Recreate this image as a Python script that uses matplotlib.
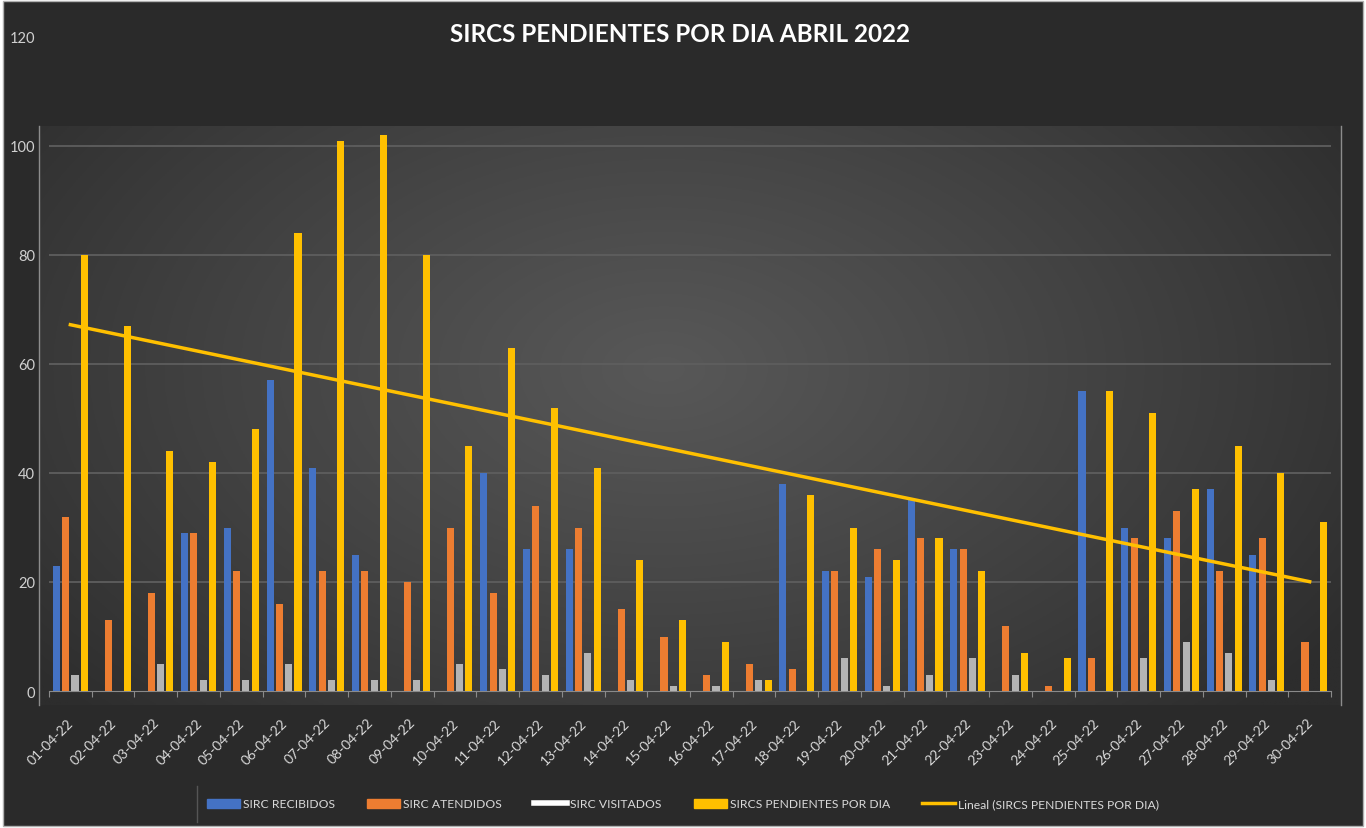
import numpy as np
import matplotlib.pyplot as plt
from matplotlib.patches import Patch, Rectangle
from matplotlib.lines import Line2D
from matplotlib.transforms import ScaledTranslation

plt.rcParams['font.family'] = ['Lato', 'DejaVu Sans']

# datos abril 2022
dias = ["01-04-22", "02-04-22", "03-04-22", "04-04-22", "05-04-22", "06-04-22",
        "07-04-22", "08-04-22", "09-04-22", "10-04-22", "11-04-22", "12-04-22",
        "13-04-22", "14-04-22", "15-04-22", "16-04-22", "17-04-22", "18-04-22",
        "19-04-22", "20-04-22", "21-04-22", "22-04-22", "23-04-22", "24-04-22",
        "25-04-22", "26-04-22", "27-04-22", "28-04-22", "29-04-22", "30-04-22"]
recibidos = [23, 0, 0, 29, 30, 57, 41, 25, 0, 0, 40, 26, 26, 0, 0,
             0, 0, 38, 22, 21, 35, 26, 0, 0, 55, 30, 28, 37, 25, 0]
atendidos = [32, 13, 18, 29, 22, 16, 22, 22, 20, 30, 18, 34, 30, 15, 10,
             3, 5, 4, 22, 26, 28, 26, 12, 1, 6, 28, 33, 22, 28, 9]
visitados = [3, 0, 5, 2, 2, 5, 2, 2, 2, 5, 4, 3, 7, 2, 1,
             1, 2, 0, 6, 1, 3, 6, 3, 0, 0, 6, 9, 7, 2, 0]
pendientes = [80, 67, 44, 42, 48, 84, 101, 102, 80, 45, 63, 52, 41, 24, 13,
              9, 2, 36, 30, 24, 28, 22, 7, 6, 55, 51, 37, 45, 40, 31]

series = ["SIRC RECIBIDOS", "SIRC ATENDIDOS", "SIRC VISITADOS", "SIRCS PENDIENTES POR DIA"]
colores = ["#4472C4", "#ED7D31", "#B4B4B4", "#FFC000"]

W, H = 1366, 829


def fx(px):
    return px / W


def fy(py):
    return 1 - py / H


fig = plt.figure(figsize=(W / 100, H / 100), dpi=100, facecolor="white")

# fondo oscuro con borde
fig.add_artist(Rectangle((fx(3), fy(827)), fx(1363) - fx(3), fy(2) - fy(827),
                         transform=fig.transFigure, facecolor="#2a2a2a",
                         edgecolor="#b0b0b0", lw=1, zorder=-10))

# area de grafico con degradado
bg = fig.add_axes([fx(39), fy(706), fx(1341) - fx(39), fy(127) - fy(706)])
bg.axis("off")
yy, xx = np.mgrid[0:1:300j, 0:1:600j]
d = np.sqrt(((xx - 0.48) / 0.62) ** 2 + ((yy - 0.42) / 0.85) ** 2)
v = np.clip(1 - d, 0, 1) ** 0.9
borde = np.array([0x2d, 0x2d, 0x2d]) / 255
centro = np.array([0x58, 0x58, 0x58]) / 255
img = borde + (centro - borde) * v[..., None]
bg.imshow(img, extent=[0, 1, 0, 1], origin="upper", aspect="auto")

ax = fig.add_axes([fx(39), fy(692), fx(1341) - fx(39), fy(38) - fy(692)])
ax.patch.set_alpha(0)
px_cat = (1331 - 49) / 30
ax.set_xlim(0.5 - 10 / px_cat, 30.5 + 10 / px_cat)
ax.set_ylim(0, 120)

x = np.arange(1, len(dias) + 1)
paso = 0.218
ancho = 0.165
for i, (vals, col) in enumerate(zip([recibidos, atendidos, visitados, pendientes], colores)):
    ax.bar(x + (i - 1.5) * paso, vals, width=ancho, color=col, zorder=3)

ax.hlines([20, 40, 60, 80, 100], 0.5, 30.5, color="#5e5e5e", lw=1.3, zorder=1)

# linea de tendencia lineal
coef = np.polyfit(x, pendientes, 1)
xs = np.array([x[0], x[-1]])
ax.plot(xs, np.polyval(coef, xs), color="#FFC000", lw=2.5, zorder=5)

for s in ["top", "left", "right"]:
    ax.spines[s].set_visible(False)
ax.spines["bottom"].set_bounds(0.5, 30.5)
ax.spines["bottom"].set_color("#8a8a8a")

ax.set_xticks(np.arange(0.5, 31, 1))
ax.set_xticklabels([])
ax.tick_params(axis="x", which="major", length=4, color="#8a8a8a", direction="out")
ax.set_xticks(x, minor=True)
ax.set_xticklabels(dias, minor=True, rotation=45, ha="right", va="center",
                   rotation_mode="anchor", fontsize=10, color="#d9d9d9")
ax.tick_params(axis="x", which="minor", length=0, pad=21)
off = ScaledTranslation(1 / 72, 0, fig.dpi_scale_trans)
for lab in ax.get_xticklabels(minor=True):
    lab.set_transform(lab.get_transform() + off)

ax.set_yticks([0, 20, 40, 60, 80, 100, 120])
ax.tick_params(axis="y", length=0, pad=3, labelsize=10.5, labelcolor="#d0d0d0")

# lineas del marco del area de grafico
for px in [39, 1341]:
    fig.add_artist(Line2D([fx(px), fx(px)], [fy(127), fy(706)],
                          transform=fig.transFigure, color="#8c8c8c", lw=1))
fig.add_artist(Line2D([fx(197), fx(197)], [fy(787), fy(823)],
                      transform=fig.transFigure, color="#555555", lw=1))

fig.text(fx(680), fy(35), "SIRCS PENDIENTES POR DIA ABRIL 2022", ha="center",
         va="center", fontsize=17.5, fontweight="bold", color="white")

handles = [Patch(color=colores[0]), Patch(color=colores[1]),
           Line2D([0], [0], color="white", lw=4),
           Patch(color=colores[3]),
           Line2D([0], [0], color="#FFC000", lw=2.5)]
labels = series + ["Lineal (SIRCS PENDIENTES POR DIA)"]
fig.legend(handles, labels, loc="center", bbox_to_anchor=(fx(683), fy(805)),
           ncol=5, frameon=False, fontsize=8.7, labelcolor="#d9d9d9",
           handlelength=2.7, handleheight=0.75, handletextpad=0.25,
           columnspacing=2.7)

fig.savefig("out.png", dpi=100, facecolor=fig.get_facecolor())
